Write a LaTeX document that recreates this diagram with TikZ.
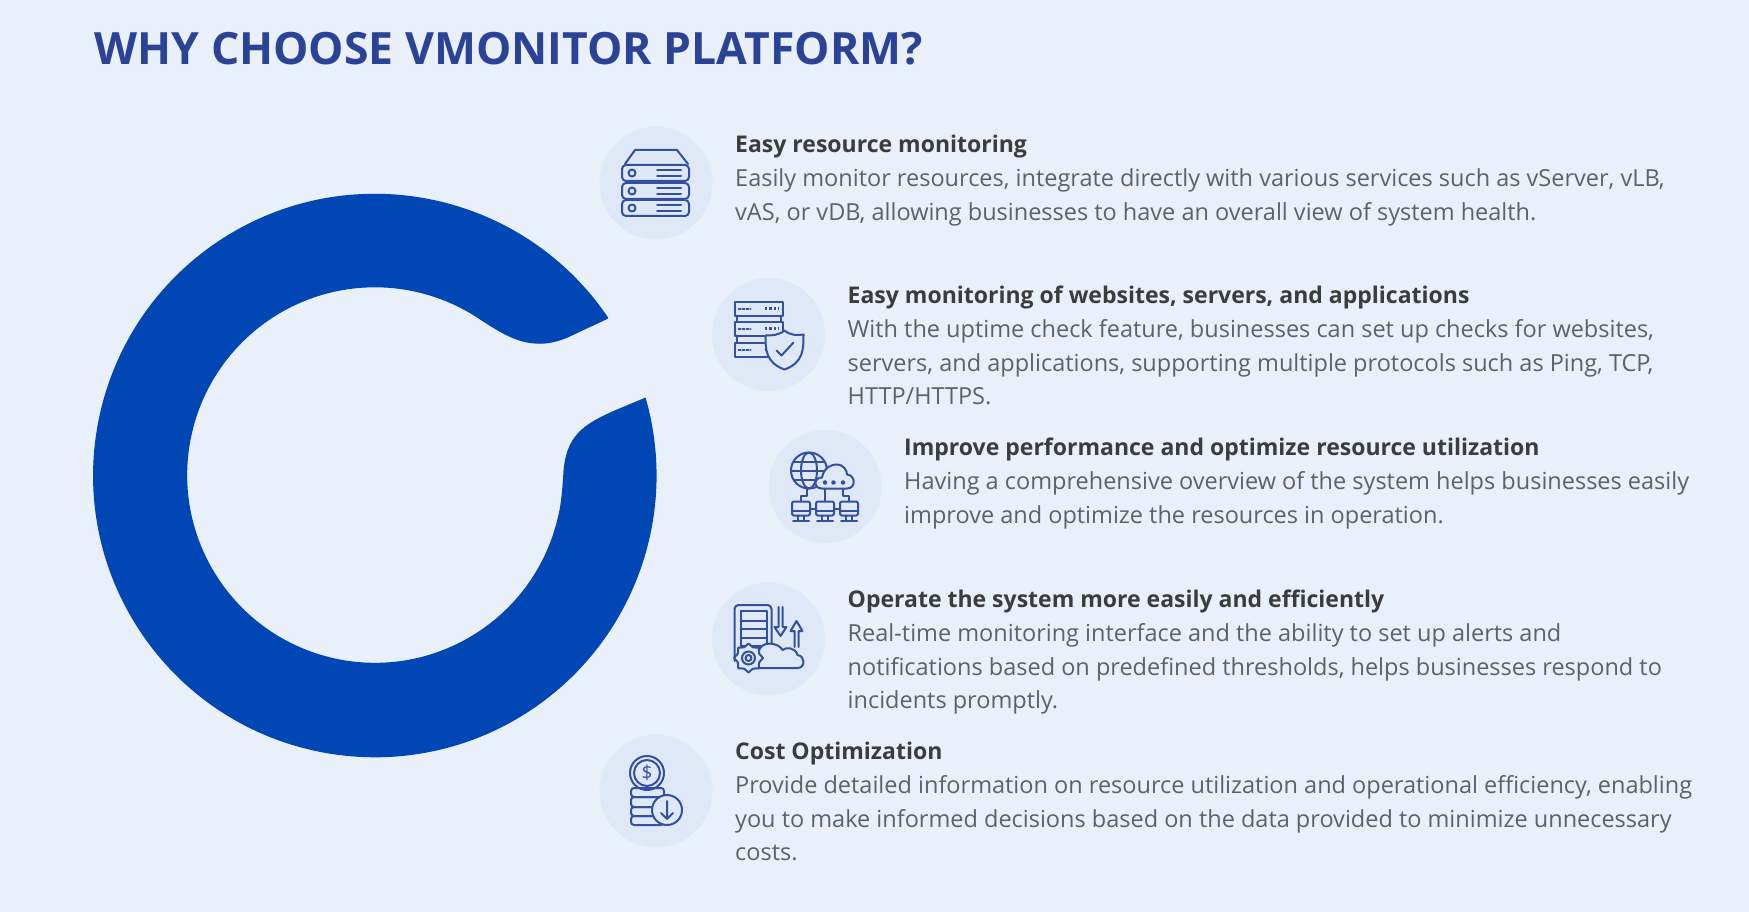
\documentclass[tikz,border=0pt]{standalone}
\usepackage{fontspec}
\setmainfont{Open Sans}
\definecolor{pagebg}{HTML}{EAF0F9}
\definecolor{ringblue}{HTML}{0047B5}
\definecolor{iconbg}{HTML}{DFE8F6}
\definecolor{iconblue}{HTML}{34509F}
\definecolor{titleblue}{HTML}{2B4397}
\definecolor{headgray}{HTML}{3C3C3C}
\definecolor{bodygray}{HTML}{5F6164}
\tikzset{
  iconcircle/.style={circle, fill=iconbg, minimum size=113pt, inner sep=0pt},
  icon/.style={draw=iconblue, line width=2pt, line join=round, line cap=round},
  itemtext/.style={anchor=north west, inner sep=0pt, align=left, text=bodygray,
    font=\fontsize{23.5}{33.7}\selectfont},
}
\newcommand{\itemhead}[1]{\textcolor{headgray}{\fontsize{23}{33.7}\selectfont\textbf{#1}}}
\begin{document}
\begin{tikzpicture}[x=1pt,y=-1pt]
  \fill[pagebg] (0,0) rectangle (1749,912);
  \useasboundingbox (0,0) rectangle (1749,912);

  \node[anchor=west, inner sep=0pt, text=titleblue, font=\fontsize{44.5}{50}\selectfont\bfseries]
    (title) at (94.5,49) {WHY CHOOSE VMONITOR PLATFORM?};

  % Draw the ring
  \draw[ringblue, fill=ringblue, line width=1.5pt, line join=round] (607.5,318) arc (-34.1:-375.9:281)
    -- (613,412)
    .. controls (585,425) and (566,435) .. (564,475)
    .. controls (563,490) and (562,505) .. (558,520)
    arc (13.8:303.9:188.5)
    .. controls (505,335) and (520,343) .. (540,343)
    .. controls (550,343) and (560,340) .. (567,337) -- cycle;

  % Circles behind the icons
  \node[iconcircle] (serverbg) at (656,183) {};
  \node[iconcircle] (shieldbg) at (768.5,334.5) {};
  \node[iconcircle] (cloudbg) at (825,486.5) {};
  \node[iconcircle] (gearbg) at (768.5,639) {};
  \node[iconcircle] (coinbg) at (656,791) {};

  % Texts
  \node[itemtext] (servertext) at (735,135) {\itemhead{Easy resource monitoring}\\
    Easily monitor resources, integrate directly with various services such as vServer, vLB,\\
    vAS, or vDB, allowing businesses to have an overall view of system health.};
  \node[itemtext] (shieldtext) at (847.5,286) {\itemhead{Easy monitoring of websites, servers, and applications}\\
    With the uptime check feature, businesses can set up checks for websites,\\
    servers, and applications, supporting multiple protocols such as Ping, TCP,\\
    HTTP/HTTPS.};
  \node[itemtext] (cloudtext) at (904,438) {\itemhead{Improve performance and optimize resource utilization}\\
    Having a comprehensive overview of the system helps businesses easily\\
    improve and optimize the resources in operation.};
  \node[itemtext] (geartext) at (847.5,590) {\itemhead{Operate the system more easily and efficiently}\\
    Real-time monitoring interface and the ability to set up alerts and\\
    notifications based on predefined thresholds, helps businesses respond to\\
    incidents promptly.};
  \node[itemtext] (cointext) at (735,742) {\itemhead{Cost Optimization}\\
    Provide detailed information on resource utilization and operational efficiency, enabling\\
    you to make informed decisions based on the data provided to minimize unnecessary\\
    costs.};

  % Server icon
  \begin{scope}[shift={(656,183)}, icon]
    \draw (-31,-19) -- (-21,-33) -- (21,-33) -- (32,-19);
    \foreach \ya/\yb in {-18/-2, 0/16, 17/33} {
      \draw[rounded corners=4pt] (-34,\ya) rectangle (33,\yb);
      \draw ({-24},{(\ya+\yb)/2}) circle (3.5);
      \draw (1,{(\ya+\yb)/2-3}) -- (25,{(\ya+\yb)/2-3});
      \draw (1,{(\ya+\yb)/2+3}) -- (25,{(\ya+\yb)/2+3});
    }
  \end{scope}

  % Shield icon
  \begin{scope}[shift={(768.5,334.5)}, icon]
    \foreach \ya/\yb in {-33/-19, -13/1, 8/22} {
      \draw (-34,\ya) rectangle (14,\yb);
      \draw[dotted] (-30,{(\ya+\yb)/2}) -- (-18,{(\ya+\yb)/2});
      \draw[dotted, line width=2.5pt, line cap=butt] (-4,{(\ya+\yb)/2}) -- (10,{(\ya+\yb)/2});
    }
    \draw (-32,-19) -- (-32,-13) (12,-19) -- (12,-13) (-32,1) -- (-32,8);
    \draw[fill=iconbg] (16,-4) .. controls (10,1) and (3,1) .. (-3,1)
      .. controls (-3,15) and (-3,28) .. (16,35)
      .. controls (35,28) and (35,15) .. (35,0)
      .. controls (29,1) and (22,1) .. (16,-4) -- cycle;
    \draw (8,16) -- (13,21) -- (25,8);
  \end{scope}

  % Cloud network icon
  \begin{scope}[shift={(825,486.5)}, icon]
    \draw (-16,-16) circle (18);
    \draw (-16,-16) ellipse (8 and 18);
    \draw (-34,-16) -- (2,-16) (-31,-25) -- (-1,-25) (-31,-7) -- (-1,-7);
    \draw[fill=iconbg] (-3,2) .. controls (-12,2) and (-12,-9) .. (-3,-9)
      .. controls (-1,-20) and (8,-22) .. (11,-22)
      .. controls (19,-22) and (22,-16) .. (22,-12)
      .. controls (31,-11) and (31,2) .. (22,2) -- cycle;
    \foreach \x in {0,8.5,18} \draw (\x,-4) circle (1.5);
    \draw (0,2) -- (0,15) (-18,2) -- (-18,9) -- (-24,9) -- (-24,15)
      (18,2) -- (18,9) -- (24,9) -- (24,15);
    \foreach \x in {-24,0,24} {
      \draw[rounded corners=2pt] (\x-9,15) rectangle (\x+9,29);
      \draw (\x-9,24) -- (\x+9,24) (\x-3,29) -- (\x-3,34) (\x+3,29) -- (\x+3,34) (\x-8,34) -- (\x+8,34);
    }
    \draw (-15,22) -- (-9,22) (9,22) -- (15,22);
  \end{scope}

  % Server with gear and cloud icon
  \begin{scope}[shift={(768.5,639)}, icon]
    \draw[rounded corners=4pt] (-34,22) -- (-34,-34) -- (3,-34) -- (3,8);
    \draw (-28,15) -- (-28,-28) -- (-2,-28) -- (-2,8);
    \foreach \y in {-18,-10,-1,7} \draw (-28,\y) -- (-2,\y);
    % arrows
    \draw (10,-32) -- (10,-12) -- (6,-12) -- (12,-3) -- (18,-12) -- (14,-12) -- (14,-32);
    \draw (26,8) -- (26,-8) -- (22,-8) -- (28,-18) -- (34,-8) -- (30,-8) -- (30,8);
    % cloud
    \draw[fill=iconbg] (-14,29) -- (29,29) .. controls (37,29) and (37,17) .. (29,16)
      .. controls (27,8) and (17,8) .. (14,11)
      .. controls (10,3) and (-9,1) .. (-10,14)
      .. controls (-14,14) and (-14,20) .. (-14,29) -- cycle;
    % gear
    \draw[fill=iconbg] (-20,19) +(0:14.5) \foreach \a in {22.5,45,...,337.5} {-- +(\a:{mod(\a,45)==0 ? 14.5 : 11.5})} -- cycle;
    \draw (-20,19) circle (6.5);
    \draw (-20,19) circle (3);
  \end{scope}

  % Coins icon
  \begin{scope}[shift={(656,791)}, icon]
    \draw (-9,-18) circle (17);
    \draw (-9,-18) circle (13);
    \node[inner sep=0pt, text=iconblue, font=\fontsize{19}{19}\selectfont] (dollar) at (-9,-18) {\$};
    \foreach \ya/\yb in {-3/6, 6/16, 16/25, 25/34}
      \draw[rounded corners=3pt] (-25,\ya) rectangle (8,\yb);
    \draw[fill=iconbg] (11,19) circle (15);
    \draw (11,10) -- (11,28) (5,22) -- (11,28) -- (17,22);
  \end{scope}
\end{tikzpicture}
\end{document}
